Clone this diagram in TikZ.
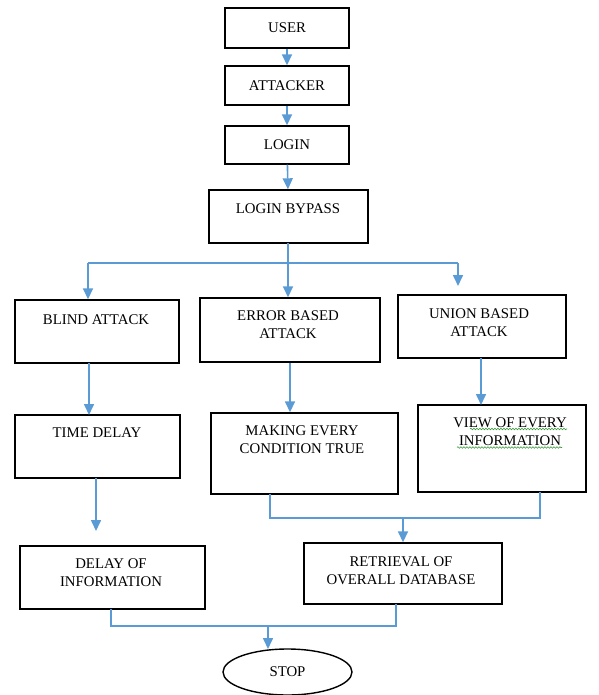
\documentclass[tikz,border=0pt]{standalone}
\usepackage{fontspec}
\setmainfont{Liberation Serif}
\usetikzlibrary{arrows.meta,fit,shapes.geometric,decorations.pathmorphing}
\definecolor{flowblue}{HTML}{5B9BD5}
\definecolor{spellgreen}{HTML}{3A9A3A}
\begin{document}
\begin{tikzpicture}[x=1pt,y=-1pt,
  box/.style={draw=black,line width=1.4pt,inner sep=0pt},
  lbl/.style={inner sep=0pt,align=center,font=\fontsize{14.8}{18}\selectfont},
  flow/.style={draw=flowblue,line width=1.6pt},
  arr/.style={flow,-{Triangle[width=10pt,length=11pt]}},
  squiggle/.style={draw=spellgreen,line width=0.6pt,
    decorate,decoration={snake,segment length=3pt,amplitude=0.8pt}}]
\useasboundingbox (0,0) rectangle (598,695);

% boxes
\node[box,fit={(225,8)(349,48)}]    (user) {};
\node[box,fit={(225,66)(349,105)}]  (attacker) {};
\node[box,fit={(225,126)(349,164)}] (login) {};
\node[box,fit={(209,190)(368,243)}] (bypass) {};
\node[box,fit={(15,300)(179,363)}]  (blind) {};
\node[box,fit={(200,298)(380,362)}] (error) {};
\node[box,fit={(398,295)(566,358)}] (union) {};
\node[box,fit={(15,415)(180,478)}]  (timedelay) {};
\node[box,fit={(211,413)(398,494)}] (making) {};
\node[box,fit={(418,405)(586,492)}] (view) {};
\node[box,fit={(20,546)(205,609)}]  (delayinfo) {};
\node[box,fit={(304,543)(502,604)}] (retrieval) {};
\node[ellipse,draw=black,line width=1.4pt,inner sep=0pt,
      minimum width=129pt,minimum height=46pt] (stop) at (287.5,672) {};

% labels
\node[lbl] at (user)     {USER};
\node[lbl] at (attacker) {ATTACKER};
\node[lbl] at (login)    {LOGIN};
\node[lbl] at (288,209)  {LOGIN BYPASS};
\node[lbl] at (96,320)   {BLIND ATTACK};
\node[lbl] at (288,325)  {ERROR BASED\\ATTACK};
\node[lbl] at (479,323)  {UNION BASED\\ATTACK};
\node[lbl] at (97,433)   {TIME DELAY};
\node[lbl] at (302,440)  {MAKING EVERY\\CONDITION TRUE};
\node[lbl] at (510,432)  {VIEW OF EVERY\\INFORMATION};
\node[lbl] at (111,573)  {DELAY OF\\INFORMATION};
\node[lbl] at (401,571)  {RETRIEVAL OF\\OVERALL DATABASE};
\node[lbl] at (stop)     {STOP};

% spell-check underlines
\draw[squiggle] (470,429) -- (567,429);
\draw[squiggle] (457,447.5) -- (562,447.5);

% top chain
\draw[arr] (user) -- (attacker);
\draw[arr] (attacker) -- (login);
\draw[arr] (login) -- (bypass);

% three-way split
\coordinate (bpOut) at (288,243);
\coordinate (splitL) at (88,263);
\coordinate (splitR) at (458,263);
\coordinate (unionTip) at (458,286);
\draw[flow] (splitL) -- (splitR);
\draw[arr] (bpOut) -- (bpOut |- error.north);
\draw[arr] (splitL) -- (splitL |- blind.north);
\draw[arr] (splitR) -- (unionTip);

% second level
\draw[arr] (89,363) -- (89,415);
\draw[arr] (error.south) -- (error.south |- making.north);
\draw[arr] (481,358) -- (481,405);

% towards the third level
\coordinate (tdOut) at (96,478);
\coordinate (diTip) at (96,531);
\draw[arr] (tdOut) -- (diTip);

\coordinate (mkOut) at (270,494);
\coordinate (vwOut) at (540,492);
\coordinate (mkJoin) at (270,518);
\coordinate (vwJoin) at (540,518);
\coordinate (mergeA) at (403,518);
\draw[flow] (mkOut) -- (mkJoin) -- (vwJoin) -- (vwOut);
\draw[arr] (mergeA) -- (mergeA |- retrieval.north);

% final merge into STOP
\coordinate (diOut) at (111,609);
\coordinate (rtOut) at (396,604);
\coordinate (diJoin) at (111,626);
\coordinate (rtJoin) at (396,626);
\coordinate (mergeB) at (268,626);
\coordinate (stopTip) at (268,649);
\draw[flow] (diOut) -- (diJoin) -- (rtJoin) -- (rtOut);
\draw[arr] (mergeB) -- (stopTip);
\end{tikzpicture}
\end{document}
